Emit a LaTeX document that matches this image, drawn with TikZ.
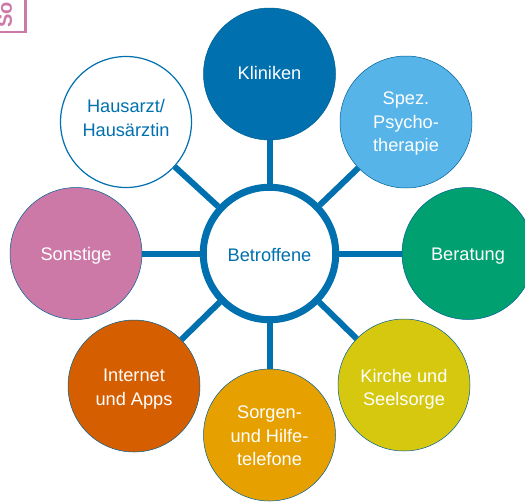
\documentclass[tikz,border=0pt]{standalone}
\usepackage{fontspec}
\setmainfont{Liberation Sans}
\definecolor{hubblue}{HTML}{0070AE}
\definecolor{pinkish}{RGB}{204,121,167}
\newcommand{\lbl}[2]{\raisebox{#1}[\height][\depth]{\parbox{110pt}{\centering #2}}}
\tikzset{
  x=1pt,y=-1pt,
  petal/.style={circle,draw=hubblue!85!black,line width=.5pt,minimum size=132pt,inner sep=0pt,align=center,text=white,font=\fontsize{18.2}{23.5}\selectfont},
  spoke/.style={draw=hubblue,line width=6pt},
}
\begin{document}
\begin{tikzpicture}
\useasboundingbox (0,0) rectangle (525,501);
\begin{scope}
\clip (0,0) rectangle (525,501);
\node[draw=hubblue,line width=7pt,fill=white,circle,minimum size=132.5pt,inner sep=0pt,text=hubblue,font=\fontsize{18.2}{23.5}\selectfont] (hub) at (269.5,253.5) {\lbl{-1pt}{Betroffene}};
\node[petal,fill=hubblue] (kl) at (269.5,74) {\lbl{1pt}{Kliniken}};
\node[petal,fill={rgb,255:red,0;green,160;blue,112}] (be) at (468,253.5) {\lbl{-2.5pt}{Beratung}};
\node[petal,fill={rgb,255:red,213;green,200;blue,15}] (ki) at (404,385) {\lbl{-4.5pt}{Kirche und\\Seelsorge}};
\node[petal,fill={rgb,255:red,230;green,160;blue,0}] (so) at (269.5,435) {\lbl{-1pt}{Sorgen-\\und Hilfe-\\telefone}};
\node[petal,fill={rgb,255:red,213;green,94;blue,0}] (in) at (134,386) {\lbl{-3pt}{Internet\\und Apps}};
\node[petal,fill=pinkish] (st) at (76,253.5) {\lbl{-2.5pt}{Sonstige}};
\node[petal,fill=white,draw=hubblue,line width=1.2pt,minimum size=131pt,text=hubblue] (ha) at (126,122) {\lbl{4pt}{Hausarzt/\\Hausärztin}};
\node[petal,fill={rgb,255:red,86;green,180;blue,233}] (sp) at (406,122) {\lbl{-2pt}{Spez.\\Psycho-\\therapie}};
\draw[spoke] (hub) -- (kl);
\draw[spoke] (hub) -- (sp);
\draw[spoke] (hub) -- (be);
\draw[spoke] (hub) -- (ki);
\draw[spoke] (hub) -- (so);
\draw[spoke] (hub) -- (in);
\draw[spoke] (hub) -- (st);
\draw[spoke] (hub) -- (ha);
\coordinate (bl) at (-5,32);
\coordinate (br) at (25.5,32);
\coordinate (tr) at (25.5,-5);
\draw[draw=pinkish,line width=2.5pt] (bl) -- (br) -- (tr);
\node[anchor=base west,rotate=90,text=pinkish,font=\bfseries\fontsize{20}{24}\selectfont,inner sep=0pt] (lab) at (12,28) {So};
\end{scope}
\end{tikzpicture}
\end{document}
